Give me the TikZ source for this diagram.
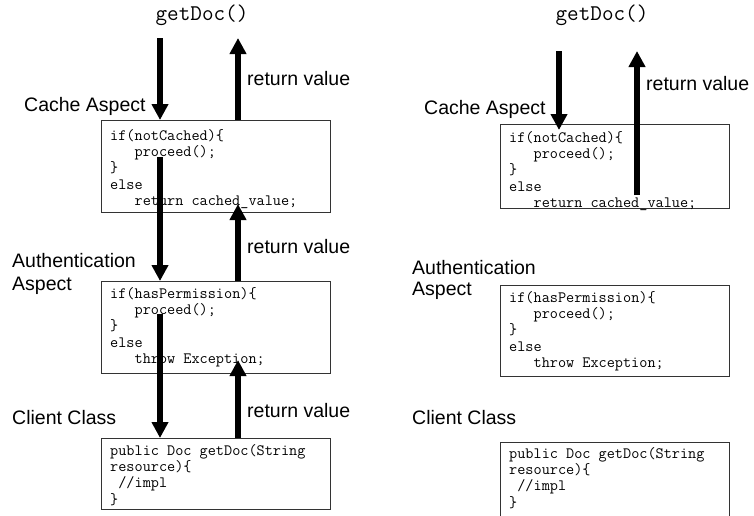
\documentclass[tikz,border=0pt]{standalone}
\usepackage{fontspec}
\setmainfont{Liberation Sans}
\usetikzlibrary{arrows.meta}
\tikzset{
  box/.style={draw=black!80, line width=1pt},
  code/.style={anchor=north west, inner sep=0pt, align=left,
    font={\ttfamily\fontsize{15.8}{16.3}\selectfont}},
  lbl/.style={anchor=base west, inner sep=0pt, font={\fontsize{19.5}{23}\selectfont}},
  call/.style={anchor=base, inner sep=0pt, font={\ttfamily\fontsize{22.5}{24}\selectfont}},
  flow/.style={line width=6pt, -{Triangle[width=16pt,length=16pt]}},
}
\newcommand{\fst}{\rule{0pt}{11pt}}
\newcommand{\ind}[1]{\phantom{#1}}
\begin{document}
\begin{tikzpicture}[x=1pt,y=-1pt]
\useasboundingbox (0,0) rectangle (754,515);
\clip (0,0) rectangle (754,515);

% ---------------- left panel ----------------
\node[call] (gdL) at (202,20) {getDoc()};

\draw[box] (101,120) rectangle (330,212);
\draw[box] (101,281) rectangle (330,373);
\draw[box] (101,438) rectangle (330,509);

\node[code] (c1L) at (110,129) {\fst if(notCached)\{\\\ind{xxx}proceed();\\\}\\else\\\ind{xxx}return cached\_value;};
\node[code] (c2L) at (110,287) {\fst if(hasPermission)\{\\\ind{xxx}proceed();\\\}\\else\\\ind{xxx}throw Exception;};
\node[code] (c3L) at (110,444) {\fst public Doc getDoc(String\\resource)\{\\\ind{x}//impl\\\}};

\node[lbl] (rv1L) at (247,85) {return value};
\node[lbl] (rv2L) at (247,253) {return value};
\node[lbl] (rv3L) at (247,417) {return value};
\node[lbl] (caL) at (24,111) {Cache Aspect};
\node[lbl] (auL) at (12,267) {Authentication};
\node[lbl] (asL) at (12,290) {Aspect};
\node[lbl] (ccL) at (12,424) {Client Class};

\coordinate (d1sL) at (160,38);
\coordinate (d1eL) at (160,120);
\coordinate (u1sL) at (238,120);
\coordinate (u1eL) at (238,38);
\coordinate (d2sL) at (160,157);
\coordinate (d2eL) at (160,281);
\coordinate (u2sL) at (238,281);
\coordinate (u2eL) at (238,204);
\coordinate (d3sL) at (160,314);
\coordinate (d3eL) at (160,438);
\coordinate (u3sL) at (238,438);
\coordinate (u3eL) at (238,360);
\draw[flow] (d1sL) -- (d1eL);
\draw[flow] (u1sL) -- (u1eL);
\draw[flow] (d2sL) -- (d2eL);
\draw[flow] (u2sL) -- (u2eL);
\draw[flow] (d3sL) -- (d3eL);
\draw[flow] (u3sL) -- (u3eL);

% ---------------- right panel ----------------
\node[call] (gdR) at (602,20) {getDoc()};

\draw[box] (500,124) rectangle (729,208);
\draw[box] (500,285) rectangle (729,376);
\draw[box] (500,442) rectangle (729,530);

\node[code] (c1R) at (509,131) {\fst if(notCached)\{\\\ind{xxx}proceed();\\\}\\else\\\ind{xxx}return cached\_value;};
\node[code] (c2R) at (509,291) {\fst if(hasPermission)\{\\\ind{xxx}proceed();\\\}\\else\\\ind{xxx}throw Exception;};
\node[code] (c3R) at (509,447) {\fst public Doc getDoc(String\\resource)\{\\\ind{x}//impl\\\}};

\node[lbl] (rvR) at (646,90) {return value};
\node[lbl] (caR) at (424,114) {Cache Aspect};
\node[lbl] (auR) at (412,274) {Authentication};
\node[lbl] (asR) at (412,295) {Aspect};
\node[lbl] (ccR) at (412,424) {Client Class};

\coordinate (dsR) at (559,51);
\coordinate (deR) at (559,130);
\coordinate (usR) at (637,195);
\coordinate (ueR) at (637,51);
\draw[flow] (dsR) -- (deR);
\draw[flow] (usR) -- (ueR);
\end{tikzpicture}
\end{document}
